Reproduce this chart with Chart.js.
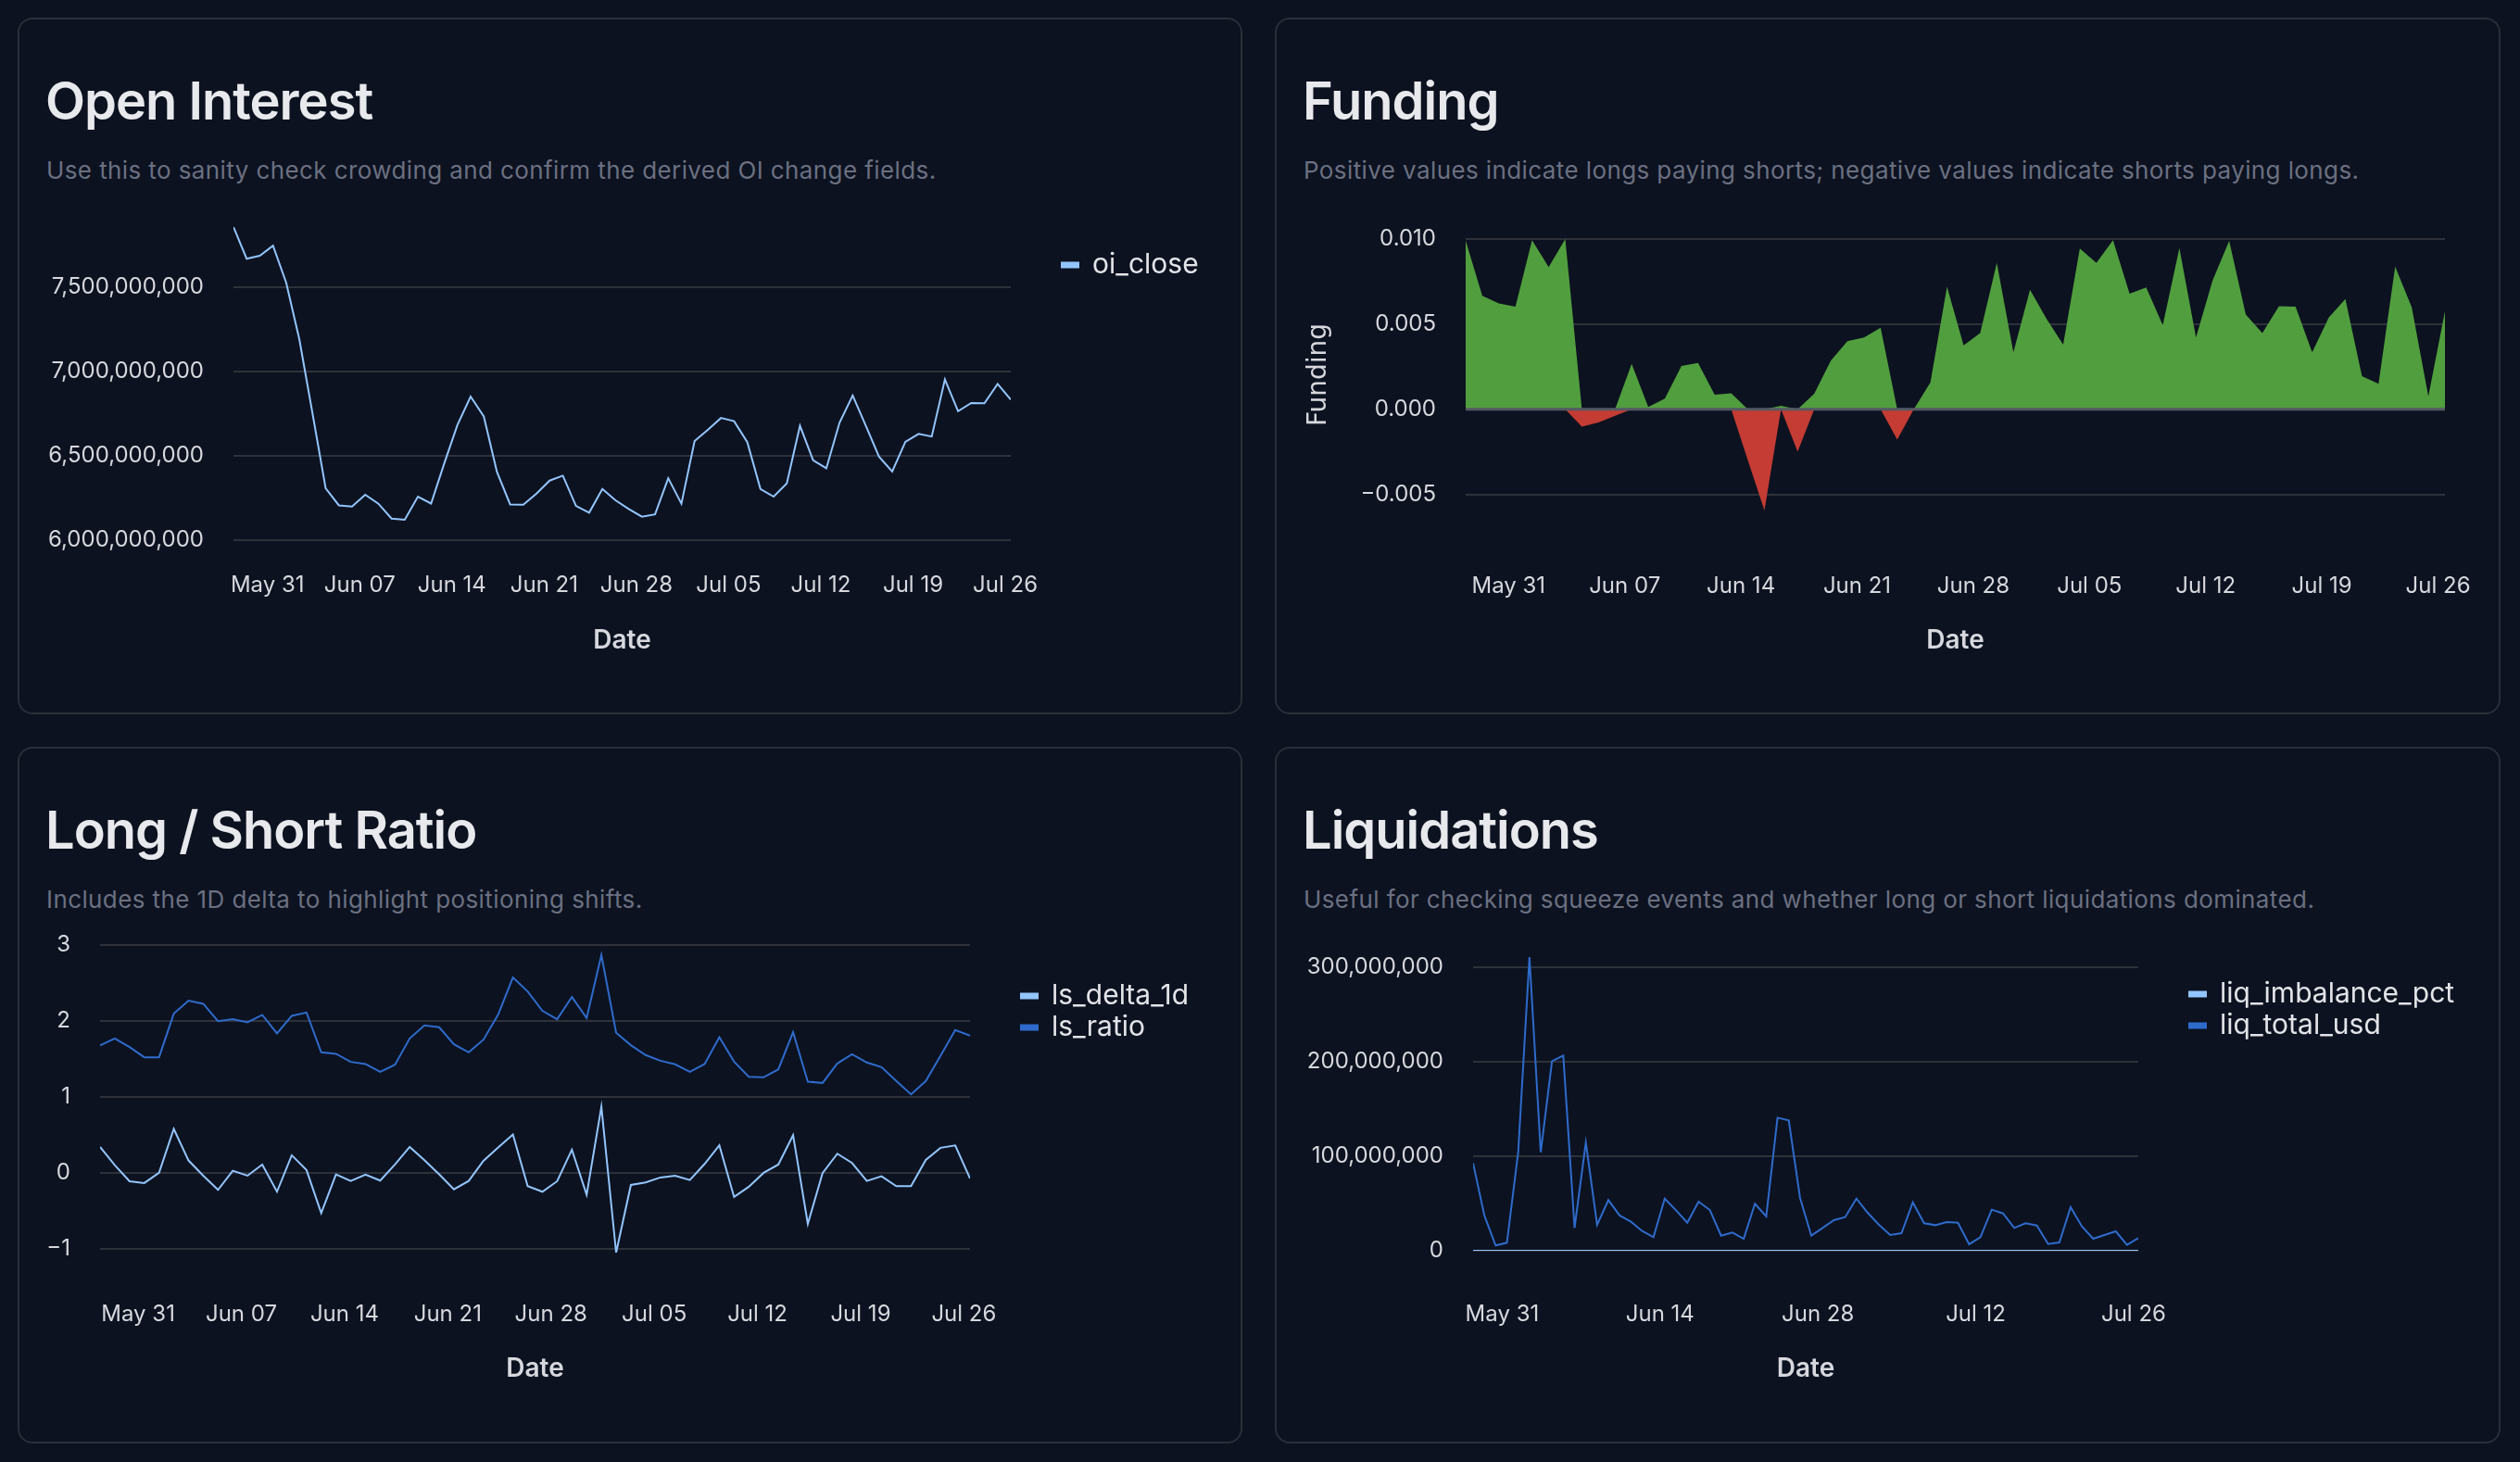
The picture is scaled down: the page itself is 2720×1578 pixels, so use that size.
<!DOCTYPE html>
<html>
<head>
<meta charset="utf-8">
<title>Derivatives overview</title>
<script src="https://cdn.jsdelivr.net/npm/chart.js@4.4.1/dist/chart.umd.min.js"></script>
<style>
  html, body { margin: 0; padding: 0; background: #0c1220; }
  body { width: 2720px; height: 1578px; position: relative; overflow: hidden; font-family: Inter, "Noto Sans", sans-serif; }
  .panel { position: absolute; width: 1322px; height: 752px; box-sizing: border-box; border: 2px solid #2a2e38; border-radius: 16px; }
  .panel h2 { position: absolute; left: 28px; top: 60px; margin: 0; font-size: 56px; line-height: 56px; font-weight: 600; letter-spacing: -1px; color: #e8e9ed; white-space: nowrap; }
  .panel p { position: absolute; left: 29px; top: 150px; margin: 0; font-size: 26px; line-height: 26px; letter-spacing: 0.4px; color: #6b7080; white-space: nowrap; }
  canvas { position: absolute; }
</style>
</head>
<body>
<div class="panel" style="left:19px;top:19px">
  <h2>Open Interest</h2>
  <p>Use this to sanity check crowding and confirm the derived OI change fields.</p>
</div>
<div class="panel" style="left:1376px;top:19px;width:1323px">
  <h2>Funding</h2>
  <p>Positive values indicate longs paying shorts; negative values indicate shorts paying longs.</p>
</div>
<div class="panel" style="left:19px;top:806px">
  <h2>Long / Short Ratio</h2>
  <p>Includes the 1D delta to highlight positioning shifts.</p>
</div>
<div class="panel" style="left:1376px;top:806px;width:1323px">
  <h2>Liquidations</h2>
  <p>Useful for checking squeeze events and whether long or short liquidations dominated.</p>
</div>

<canvas id="oi" width="1318" height="575" style="left:21px;top:185px"></canvas>
<canvas id="funding" width="1361" height="562" style="left:1378px;top:198px"></canvas>
<canvas id="ls" width="1318" height="587" style="left:21px;top:960px"></canvas>
<canvas id="liq" width="1318" height="574" style="left:1378px;top:973px"></canvas>

<script>
// daily rows, stamped at UTC midnight
const dates = [
  '2024-05-28','2024-05-29','2024-05-30','2024-05-31',
  '2024-06-01','2024-06-02','2024-06-03','2024-06-04','2024-06-05','2024-06-06','2024-06-07','2024-06-08','2024-06-09','2024-06-10',
  '2024-06-11','2024-06-12','2024-06-13','2024-06-14','2024-06-15','2024-06-16','2024-06-17','2024-06-18','2024-06-19','2024-06-20',
  '2024-06-21','2024-06-22','2024-06-23','2024-06-24','2024-06-25','2024-06-26','2024-06-27','2024-06-28','2024-06-29','2024-06-30',
  '2024-07-01','2024-07-02','2024-07-03','2024-07-04','2024-07-05','2024-07-06','2024-07-07','2024-07-08','2024-07-09','2024-07-10',
  '2024-07-11','2024-07-12','2024-07-13','2024-07-14','2024-07-15','2024-07-16','2024-07-17','2024-07-18','2024-07-19','2024-07-20',
  '2024-07-21','2024-07-22','2024-07-23','2024-07-24','2024-07-25','2024-07-26'
];

const oiClose = [
  7.856e9, 7.668e9, 7.686e9, 7.745e9, 7.527e9, 7.190e9, 6.751e9, 6.307e9, 6.206e9, 6.199e9,
  6.269e9, 6.216e9, 6.128e9, 6.121e9, 6.258e9, 6.217e9, 6.455e9, 6.683e9, 6.851e9, 6.733e9,
  6.404e9, 6.212e9, 6.210e9, 6.276e9, 6.353e9, 6.382e9, 6.203e9, 6.163e9, 6.303e9, 6.236e9,
  6.185e9, 6.139e9, 6.153e9, 6.367e9, 6.216e9, 6.587e9, 6.654e9, 6.724e9, 6.705e9, 6.581e9,
  6.303e9, 6.258e9, 6.336e9, 6.678e9, 6.473e9, 6.426e9, 6.696e9, 6.857e9, 6.678e9, 6.495e9,
  6.407e9, 6.583e9, 6.630e9, 6.614e9, 6.952e9, 6.764e9, 6.813e9, 6.811e9, 6.926e9, 6.833e9
];

const funding = [
  0.0099, 0.00666, 0.00621, 0.00603, 0.00993, 0.00835, 0.0100, -0.00103, -0.00078, -0.00038,
  0.00267, 0.00013, 0.00062, 0.00254, 0.00272, 0.00085, 0.00094, -0.0030, -0.00595, 0.0002,
  -0.0025, 0.00091, 0.00285, 0.0040, 0.00421, 0.00479, -0.00178, 0.0, 0.00158, 0.0072,
  0.00376, 0.00448, 0.0086, 0.00334, 0.00702, 0.0053, 0.00379, 0.00944, 0.0086, 0.00993,
  0.00679, 0.00715, 0.00494, 0.00947, 0.00421, 0.00757, 0.00989, 0.00557, 0.00448, 0.00606,
  0.00603, 0.00334, 0.00539, 0.00648, 0.00194, 0.00149, 0.00838, 0.00599, 0.00076, 0.00575
];

const lsRatio = [
  1.677, 1.770, 1.657, 1.522, 1.522, 2.096, 2.267, 2.226, 1.998, 2.023,
  1.982, 2.080, 1.836, 2.068, 2.112, 1.587, 1.567, 1.461, 1.433, 1.331,
  1.424, 1.770, 1.941, 1.917, 1.693, 1.587, 1.754, 2.084, 2.572, 2.389,
  2.133, 2.023, 2.316, 2.039, 2.869, 1.844, 1.681, 1.551, 1.477, 1.429,
  1.331, 1.433, 1.787, 1.465, 1.266, 1.258, 1.363, 1.852, 1.201, 1.184,
  1.441, 1.563, 1.453, 1.392, 1.209, 1.034, 1.209, 1.543, 1.880, 1.807
];

const lsDelta1d = [
  0.342, 0.102, -0.110, -0.134, 0.000, 0.578, 0.163, -0.037, -0.224, 0.028,
  -0.037, 0.110, -0.248, 0.232, 0.037, -0.529, -0.020, -0.106, -0.024, -0.102,
  0.110, 0.342, 0.167, -0.020, -0.216, -0.106, 0.159, 0.334, 0.505, -0.175,
  -0.248, -0.110, 0.305, -0.289, 0.871, -1.050, -0.159, -0.126, -0.061, -0.037,
  -0.094, 0.118, 0.362, -0.317, -0.183, 0.000, 0.110, 0.497, -0.672, -0.004,
  0.252, 0.130, -0.106, -0.045, -0.175, -0.175, 0.171, 0.330, 0.362, -0.073
];

const liqTotalUsd = [
  92.8e6, 37.3e6, 5.6e6, 8.5e6, 104.2e6, 310.8e6, 104.2e6, 200.7e6, 206.5e6, 24.2e6,
  114.7e6, 27.5e6, 53.6e6, 37.3e6, 30.7e6, 20.9e6, 14.4e6, 55.2e6, 42.8e6, 29.7e6,
  52.0e6, 43.1e6, 16.0e6, 19.3e6, 12.7e6, 49.7e6, 36.3e6, 140.8e6, 137.9e6, 55.9e6,
  16.0e6, 24.2e6, 32.4e6, 35.6e6, 55.2e6, 40.2e6, 27.5e6, 16.7e6, 18.6e6, 51.3e6,
  29.1e6, 27.1e6, 30.4e6, 29.7e6, 6.9e6, 14.4e6, 43.5e6, 39.5e6, 24.2e6, 29.1e6,
  26.8e6, 7.2e6, 8.8e6, 46.1e6, 25.8e6, 12.7e6, 16.7e6, 20.6e6, 6.2e6, 13.4e6
];

// pct values are flat on a USD scale, they read as zero
const liqImbalancePct = [
  0, 0, 0, 0, 0, 0, 0, 0, 0, 0,
  0, 0, 0, 0, 0, 0, 0, 0, 0, 0,
  0, 0, 0, 0, 0, 0, 0, 0, 0, 0,
  0, 0, 0, 0, 0, 0, 0, 0, 0, 0,
  0, 0, 0, 0, 0, 0, 0, 0, 0, 0,
  0, 0, 0, 0, 0, 0, 0, 0, 0, 0
];

const weekTicks = ['2024-05-31','2024-06-07','2024-06-14','2024-06-21','2024-06-28','2024-07-05','2024-07-12','2024-07-19','2024-07-26'];
const weekLabels = ['May 31','Jun 07','Jun 14','Jun 21','Jun 28','Jul 05','Jul 12','Jul 19','Jul 26'];
const fortnightTicks = ['2024-05-31','2024-06-14','2024-06-28','2024-07-12','2024-07-26'];
const fortnightLabels = ['May 31','Jun 14','Jun 28','Jul 12','Jul 26'];

const oiTicks = [6.0e9, 6.5e9, 7.0e9, 7.5e9];
const fundingTicks = [-0.005, 0, 0.005, 0.010];
const lsTicks = [-1, 0, 1, 2, 3];
const liqTicks = [0, 1e8, 2e8, 3e8];

// axis ticks sit on local midnight (UTC+10)
const tzHours = 10;

const light = '#93c5fd';
const dark = '#2e6bcb';
const green = '#519e3e';
const red = '#c43c33';
const gridColor = '#2e313a';
const textColor = '#d6d8de';
const family = 'Inter';

function dayIndex(d) {
  return (Date.parse(d) - Date.parse(dates[0])) / 864e5;
}
function points(values) {
  return dates.map((d, i) => ({ x: dayIndex(d), y: values[i] }));
}
function tickPos(list) {
  return list.map(d => dayIndex(d) - tzHours / 24);
}
const minus = v => (v < 0 ? '\u2212' : '');
const thousands = v => v.toLocaleString('en-US');

// keeps the legend in a fixed slot right of the plot
const legendSlot = {
  id: 'legendSlot',
  afterInit(chart) {
    const lg = chart.legend;
    const fit = lg.fit;
    lg.fit = function () {
      fit.call(this);
      this.width = chart.options.plugins.legendSlot.width;
    };
  },
  afterLayout(chart, args, opts) {
    const lg = chart.legend;
    const h = lg.height;
    lg.left = chart.chartArea.right + opts.dx;
    lg.right = lg.left + lg.width;
    lg.top = chart.chartArea.top + opts.dy;
    lg.bottom = lg.top + h;
  }
};

const zeroRule = {
  id: 'zeroRule',
  afterDatasetsDraw(chart, args, opts) {
    const { ctx, chartArea, scales } = chart;
    const y = scales.y.getPixelForValue(0);
    ctx.save();
    ctx.strokeStyle = opts.color;
    ctx.lineWidth = opts.width;
    ctx.beginPath();
    ctx.moveTo(chartArea.left, y);
    ctx.lineTo(chartArea.right, y);
    ctx.stroke();
    ctx.restore();
  }
};

function xScale(ticks, labels, height, padding) {
  return {
    type: 'linear',
    min: 0,
    max: dayIndex(dates[dates.length - 1]),
    afterBuildTicks: s => { s.ticks = ticks.map(v => ({ value: v })); },
    afterFit: s => { s.height = height; },
    border: { display: false },
    grid: { display: false, drawTicks: false },
    ticks: {
      autoSkip: false, maxRotation: 0, padding,
      color: textColor, font: { family, size: 24 },
      callback: (v, i) => labels[i]
    },
    title: { display: true, text: 'Date', color: textColor, padding: 0, font: { family, size: 28, weight: '600' } }
  };
}

function yScale(min, max, ticks, width, fmt, title) {
  return {
    type: 'linear',
    min, max,
    afterBuildTicks: s => { s.ticks = ticks.map(v => ({ value: v })); },
    afterFit: s => { s.width = width; },
    border: { display: false },
    grid: { color: gridColor, lineWidth: 2, drawTicks: false },
    ticks: { color: textColor, font: { family, size: 24 }, padding: 32, callback: fmt },
    title: title || { display: false }
  };
}

function legendOpts() {
  return {
    position: 'right',
    align: 'start',
    labels: { color: '#e2e4e9', font: { family, size: 30 }, boxWidth: 18, boxHeight: 5, padding: 4 }
  };
}

function line(label, values, color) {
  return {
    label, data: points(values),
    borderColor: color, backgroundColor: color,
    borderWidth: 2, pointRadius: 0, tension: 0, fill: false
  };
}

const base = { responsive: false, animation: false, devicePixelRatio: 1 };

new Chart(document.getElementById('oi'), {
  type: 'line',
  data: { datasets: [line('oi_close', oiClose, light)] },
  plugins: [legendSlot],
  options: {
    ...base,
    layout: { padding: { left: 0, top: 60, right: 0, bottom: 52 } },
    plugins: {
      legend: legendOpts(),
      legendSlot: { width: 248, dx: 51, dy: 22 },
      tooltip: { enabled: false }
    },
    scales: {
      x: xScale(tickPos(weekTicks), weekLabels, 125, 34),
      y: yScale(6.0e9, Math.max(...oiClose), oiTicks, 231, thousands)
    }
  }
});

new Chart(document.getElementById('funding'), {
  type: 'line',
  data: {
    datasets: [
      { label: 'positive', data: points(funding.map(v => Math.max(v, 0))), fill: 'origin',
        backgroundColor: green, borderColor: 'rgba(0,0,0,0)', borderWidth: 0, pointRadius: 0, tension: 0 },
      { label: 'negative', data: points(funding.map(v => Math.min(v, 0))), fill: 'origin',
        backgroundColor: red, borderColor: 'rgba(0,0,0,0)', borderWidth: 0, pointRadius: 0, tension: 0 }
    ]
  },
  plugins: [zeroRule],
  options: {
    ...base,
    layout: { padding: { left: 0, top: 60, right: 100, bottom: 52 } },
    plugins: {
      legend: { display: false },
      tooltip: { enabled: false },
      zeroRule: { color: '#555965', width: 3 }
    },
    scales: {
      x: xScale(tickPos(weekTicks), weekLabels, 157, 67),
      y: yScale(Math.min(...funding), 0.010, fundingTicks, 204,
        v => minus(v) + Math.abs(v).toFixed(3),
        { display: true, text: 'Funding', color: textColor, padding: { top: 29, bottom: 0 },
          font: { family: 'DejaVu Sans', size: 28 } })
    }
  }
});

new Chart(document.getElementById('ls'), {
  type: 'line',
  data: { datasets: [line('ls_delta_1d', lsDelta1d, light), line('ls_ratio', lsRatio, dark)] },
  plugins: [legendSlot],
  options: {
    ...base,
    layout: { padding: { left: 0, top: 60, right: 0, bottom: 53 } },
    plugins: {
      legend: legendOpts(),
      legendSlot: { width: 292, dx: 51, dy: 36 },
      tooltip: { enabled: false }
    },
    scales: {
      x: xScale(tickPos(weekTicks), weekLabels, 142, 52),
      y: yScale(Math.min(...lsDelta1d), 3, lsTicks, 87, v => minus(v) + Math.abs(v))
    }
  }
});

new Chart(document.getElementById('liq'), {
  type: 'line',
  data: { datasets: [line('liq_imbalance_pct', liqImbalancePct, light), line('liq_total_usd', liqTotalUsd, dark)] },
  plugins: [legendSlot],
  options: {
    ...base,
    layout: { padding: { left: 0, top: 60, right: 0, bottom: 53 } },
    plugins: {
      legend: legendOpts(),
      legendSlot: { width: 388, dx: 51, dy: 21 },
      tooltip: { enabled: false }
    },
    scales: {
      x: xScale(tickPos(fortnightTicks), fortnightLabels, 144, 54),
      y: yScale(0, Math.max(...liqTotalUsd), liqTicks, 212, thousands)
    }
  }
});
</script>
</body>
</html>
